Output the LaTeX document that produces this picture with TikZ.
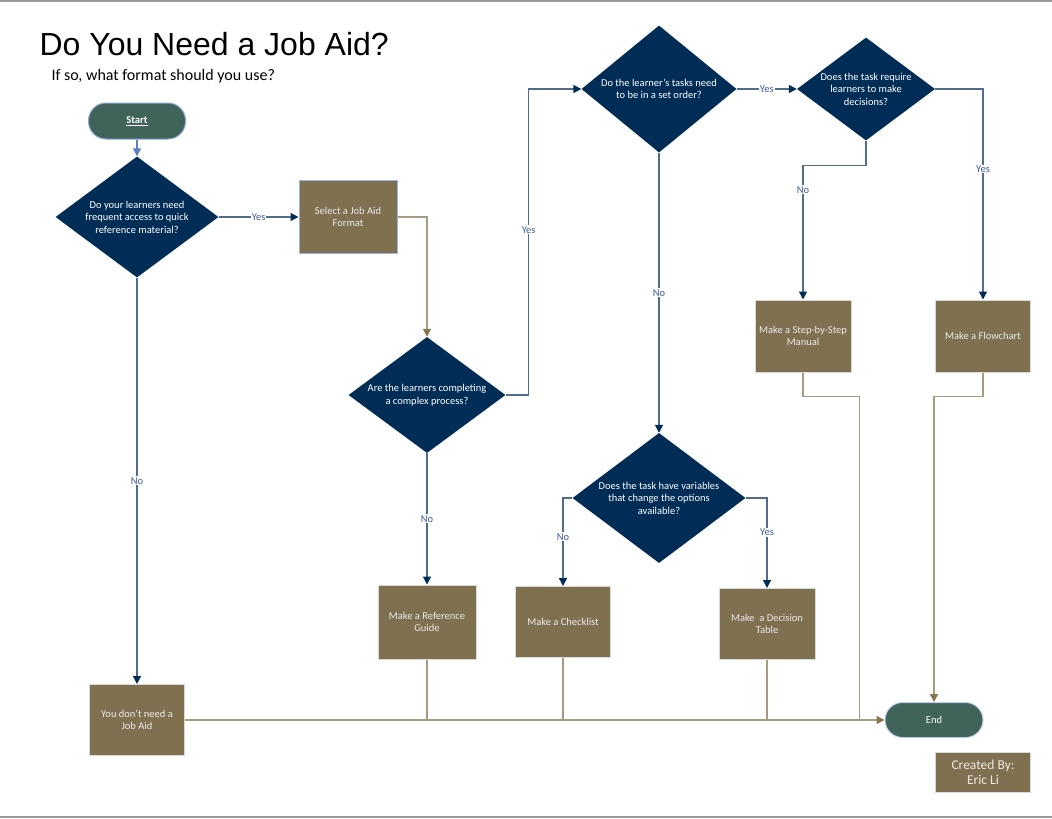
\documentclass[tikz,border=0pt]{standalone}
\usepackage{fontspec}
\setmainfont{Carlito}
\newfontfamily\titlefont{Liberation Sans}
\usetikzlibrary{positioning, shapes.geometric, arrows.meta, calc}

\definecolor{jobnavy}{HTML}{002D55}
\definecolor{jobolive}{HTML}{7F7050}
\definecolor{jobteal}{HTML}{41645A}
\definecolor{qlinecol}{HTML}{506E8C}
\definecolor{alinecol}{HTML}{A59B80}
\definecolor{atipcol}{HTML}{857650}
\definecolor{labelblue}{HTML}{3C5AA0}
\definecolor{startblue}{HTML}{5B80C8}

\begin{document}
\begin{tikzpicture}
[x=1pt, y=1pt, on grid, node distance=96pt,
 question/.style={diamond, fill=jobnavy, inner sep=0pt},
 qtext/.style={text=white, align=center, font=\fontsize{10.5}{12.5}\selectfont},
 action/.style={rectangle, fill=jobolive, draw=gray!30, line width=1pt, text=white!92!black,
   align=center, minimum width=96pt, minimum height=72pt, font=\fontsize{10.5}{12.5}\selectfont},
 terminal/.style={rectangle, rounded corners=17.5pt, fill=jobteal, draw=startblue!70, line width=1pt,
   text=white, minimum width=97pt, minimum height=36pt, font=\fontsize{10.5}{12}\selectfont},
 yesno/.style={fill=white, text=labelblue, inner sep=1pt, font=\fontsize{10.5}{12}\selectfont},
 qline/.style={draw=qlinecol, line width=1.4pt, -{Triangle[length=8pt,width=8pt,color=jobnavy]}},
 aline/.style={draw=alinecol, line width=1.4pt},
 atip/.style={-{Triangle[length=8pt,width=8pt,color=atipcol]}}]

\useasboundingbox (0,0) rectangle (1052,-819);
\draw[gray!80, line width=1.5pt] (0,-0.75) -- (1052,-0.75);
\draw[gray!80, line width=2pt] (0,-817) -- (1052,-817);

\node[anchor=base west, font=\titlefont\fontsize{32}{38}\selectfont] (title) at (36,-55) {Do You Need a Job Aid?};
\node[anchor=base west, font=\fontsize{16}{19}\selectfont] (subtitle) at (48,-80) {If so, what format should you use?};

\node[terminal] (start) at (137,-121) {\underline{\textbf{Start}}};
\node[question, minimum width=163pt, minimum height=121pt, below=96pt of start,
  label={[qtext]center:Do your learners need\\frequent access to quick\\reference material?}] (d1) {};
\node[action, draw=startblue!60, minimum width=98pt, minimum height=73pt, right=211pt of d1] (select)
  {Select a Job Aid\\Format};
\node[question, minimum width=157pt, minimum height=116pt, below right=178pt and 79pt of select,
  label={[qtext]center:Are the learners completing\\a complex process?}] (d2) {};
\node[action, minimum width=98pt, minimum height=74pt, below=227pt of d2] (ref)
  {Make a Reference\\Guide};
\node[question, minimum width=155pt, minimum height=127pt, above right=306pt and 232pt of d2,
  label={[qtext]center:Do the learner's tasks need\\to be in a set order?}] (d3) {};
\node[question, minimum width=138pt, minimum height=103pt, right=207pt of d3,
  label={[qtext]center:Does the task require\\learners to make\\decisions?}] (d4) {};
\node[action, below left=247pt and 63pt of d4] (step)
  {Make a Step-by-Step\\Manual};
\node[action, minimum width=95pt, below right=247pt and 117pt of d4] (chart)
  {Make a Flowchart};
\node[question, minimum width=173pt, minimum height=130pt, below=409pt of d3,
  label={[qtext]center:Does the task have variables\\that change the options\\available?}] (d5) {};
\node[action, minimum width=95pt, minimum height=71pt, below left=124pt and 96pt of d5] (check)
  {Make a Checklist};
\node[action, minimum height=71pt, below right=126pt and 108pt of d5] (dtab)
  {Make\ \ a Decision\\Table};
\node[action, minimum width=95pt, minimum height=71pt, below=503pt of d1] (noaid)
  {You don't need a\\Job Aid};
\node[terminal, draw=startblue!40, minimum width=98pt, minimum height=35pt, right=797pt of noaid] (end) {End};
\node[action, minimum width=95pt, minimum height=40pt, font=\fontsize{13.5}{15}\selectfont,
  text=white!85!jobolive, below right=52pt and 49pt of end] (credit) {Created By:\\Eric Li};

% questions
\draw[draw=startblue, line width=1.4pt, -{Triangle[length=8pt,width=8pt,color=startblue]}] (start) -- (d1);
\draw[qline] (d1.east) -- node[yesno] {Yes} (select.west);
\draw[qline] (d1.south) -- node[yesno] {No} (noaid.north);
\draw[qline] (d2.east) -- ++(23,0) |- node[yesno, pos=0.27] {Yes} (d3.west);
\draw[qline] (d2.south) -- node[yesno] {No} (ref.north);
\draw[qline] (d3.east) -- node[yesno] {Yes} (d4.west);
\draw[qline] (d3.south) -- node[yesno] {No} (d5.north);
\draw[qline] (d4.south) -- ++(0,-25) -| node[yesno, pos=0.59] {No} (step.north);
\draw[qline] (d4.east) -| node[yesno, pos=0.69] {Yes} (chart.north);
\draw[qline] (d5.west) -| node[yesno, pos=0.72] {No} (check.north);
\draw[qline] (d5.east) -| node[yesno, pos=0.69] {Yes} (dtab.north);

% results to end
\draw[aline, atip] (select.east) -| (d2.north);
\draw[aline, atip] (noaid.east) -- (end.west);
\draw[aline] (ref.south) -- (ref.south |- end.west);
\draw[aline] (check.south) -- (check.south |- end.west);
\draw[aline] (dtab.south) -- (dtab.south |- end.west);
\draw[aline] (step.south) -- ++(0,-24) -| ($(end.west)+(-25,0)$);
\draw[aline, atip] (chart.south) -- ++(0,-24) -| (end.north);
\end{tikzpicture}
\end{document}
